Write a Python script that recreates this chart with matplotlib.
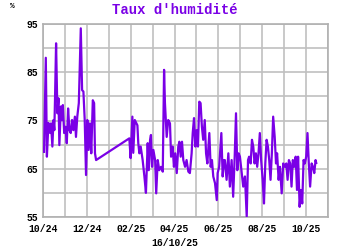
import matplotlib
matplotlib.use("Agg")
import matplotlib.pyplot as plt

# humidity readings, x in months since 01/10/24
seg1_months = [0.03, 0.11, 0.16, 0.23, 0.31, 0.35, 0.41, 0.46, 0.50, 0.53, 0.58, 0.64,
               0.69, 0.73, 0.80, 0.84, 0.89, 0.95, 1.01, 1.07, 1.13, 1.19, 1.25, 1.31,
               1.37, 1.44, 1.49, 1.55, 1.62, 1.71, 1.77, 1.83, 1.89, 1.95, 2.01, 2.07,
               2.13, 2.19, 2.26, 2.32, 2.36, 2.41]
seg1_values = [68.5, 88, 67.5, 74.5, 72.4, 74.4, 69.6, 75.1, 73, 79.2, 91, 76.5,
               79.6, 69.9, 77.9, 75.1, 78.2, 72.4, 73.7, 70.3, 77.5, 73, 72.4, 75.1,
               73, 75.8, 71.6, 75.8, 78.6, 94.1, 81.3, 81, 75.1, 63.7, 75.1, 68.9,
               74.4, 68.2, 79.2, 78.6, 68.2, 66.8]

seg2_months = [3.93, 3.99, 4.07, 4.11, 4.18, 4.30, 4.34, 4.39, 4.45, 4.54, 4.62, 4.69,
               4.77, 4.82, 4.88, 4.92, 4.97, 5.03, 5.11, 5.16, 5.23, 5.30, 5.38, 5.46,
               5.52, 5.56, 5.64, 5.71, 5.79, 5.84, 5.91, 5.97, 6.03, 6.10, 6.17, 6.22,
               6.28, 6.34, 6.40, 6.48, 6.55, 6.63, 6.70, 6.78, 6.83, 6.89, 6.95, 7.01,
               7.07, 7.13, 7.19, 7.25, 7.31, 7.38, 7.44, 7.50, 7.59, 7.65, 7.71, 7.77,
               7.85, 7.93, 7.97, 8.04, 8.14, 8.20, 8.26, 8.30, 8.38, 8.46, 8.53, 8.61,
               8.68, 8.75, 8.81, 8.87, 8.93, 8.99, 9.07, 9.14, 9.22, 9.30, 9.36, 9.41,
               9.48, 9.54, 9.60, 9.66, 9.72, 9.78, 9.84, 9.90, 9.96, 10.03, 10.09, 10.15,
               10.21, 10.27, 10.33, 10.39, 10.45, 10.51, 10.58, 10.64, 10.69, 10.76, 10.82,
               10.90, 10.97, 11.05, 11.11, 11.17, 11.23, 11.29, 11.35, 11.41, 11.47, 11.54,
               11.60, 11.65, 11.72, 11.78, 11.84, 11.90, 11.96, 12.02, 12.08, 12.14, 12.20,
               12.27, 12.33, 12.39, 12.45, 12.48]
seg2_values = [71.3, 67.2, 75.8, 68.3, 75.1, 74, 70.3, 68.2, 69.6, 66.8, 63.4, 60,
               70.3, 64.7, 71, 72, 65.4, 68.9, 66.8, 59.9, 66.8, 64.7, 65.4, 64.4,
               85.5, 78.6, 71.6, 75.1, 74.4, 67.5, 69.6, 65.4, 68.2, 64.1, 69.6, 70.6,
               67.5, 70.6, 66.8, 65.4, 66.8, 64.4, 64.1, 68.2, 72.4, 75.5, 69.6, 73,
               69.6, 78.9, 78.6, 73.7, 71, 75.1, 68.2, 66.1, 72.4, 65.4, 66.8, 63.4,
               62, 58.5, 64.1, 65.4, 72.4, 63.4, 66.8, 66.8, 62.7, 68.2, 61.3, 66.8,
               59.2, 67.5, 76.5, 64.7, 68.2, 67.5, 64.1, 61.3, 63.4, 55.1, 66.8, 67.5,
               66.1, 71, 69.6, 66.1, 68.2, 65.4, 68.2, 72.4, 66.8, 62.7, 57.8, 66.1,
               71, 69.6, 66.8, 62.7, 68.2, 75.8, 71.6, 66.1, 68.2, 62.7, 65.4,
               59.9, 66.1, 65.4, 66.1, 62.7, 66.8, 66.1, 61.3, 66.8, 65.4, 67.5,
               60.6, 67.5, 57.1, 60.6, 57.8, 66.8, 66.1, 67.5, 72.4, 66.1, 61.3,
               66.1, 65.4, 64.1, 66.8, 66.2]

month_labels = ["10/24", "", "12/24", "", "02/25", "", "04/25", "", "06/25", "",
                "08/25", "", "10/25", ""]

purple = "#7a00e6"
mono = "Liberation Mono"

fig = plt.figure(figsize=(3.5, 2.5), dpi=100)
ax = fig.add_axes([0.124, 0.132, 0.812, 0.772])

# gap in the data is just joined by a straight line
xs = seg1_months + seg2_months
ys = seg1_values + seg2_values
ax.plot(xs, ys, color=purple, lw=1.6, zorder=3)

ax.set_xlim(0, 13)
ax.set_ylim(55, 95)
ax.set_xticks(range(14))
ax.set_xticklabels(month_labels)
ax.set_yticks([55, 60, 65, 70, 75, 80, 85, 90, 95])
ax.set_yticklabels(["55", "", "65", "", "75", "", "85", "", "95"])
ax.grid(True, color="#c0c0c0", lw=1.2)
ax.tick_params(axis="y", length=0, pad=4)
ax.tick_params(axis="x", length=0, pad=5)
for lab in ax.get_xticklabels() + ax.get_yticklabels():
    lab.set_fontfamily(mono)
    lab.set_fontweight("bold")
    lab.set_fontsize(7)
for s in ax.spines.values():
    s.set_color("#b0b0b0")
    s.set_linewidth(1.2)

fig.text(0.5, 0.96, "Taux d'humidité", ha="center", va="center", color=purple,
         fontfamily=mono, fontweight="bold", fontsize=10)
fig.text(0.035, 0.975, "%", ha="center", va="center", fontfamily=mono,
         fontweight="bold", fontsize=5.5)
fig.text(0.5, 0.028, "16/10/25", ha="center", va="center", fontfamily=mono,
         fontweight="bold", fontsize=7)

fig.savefig("out.png", dpi=100)
